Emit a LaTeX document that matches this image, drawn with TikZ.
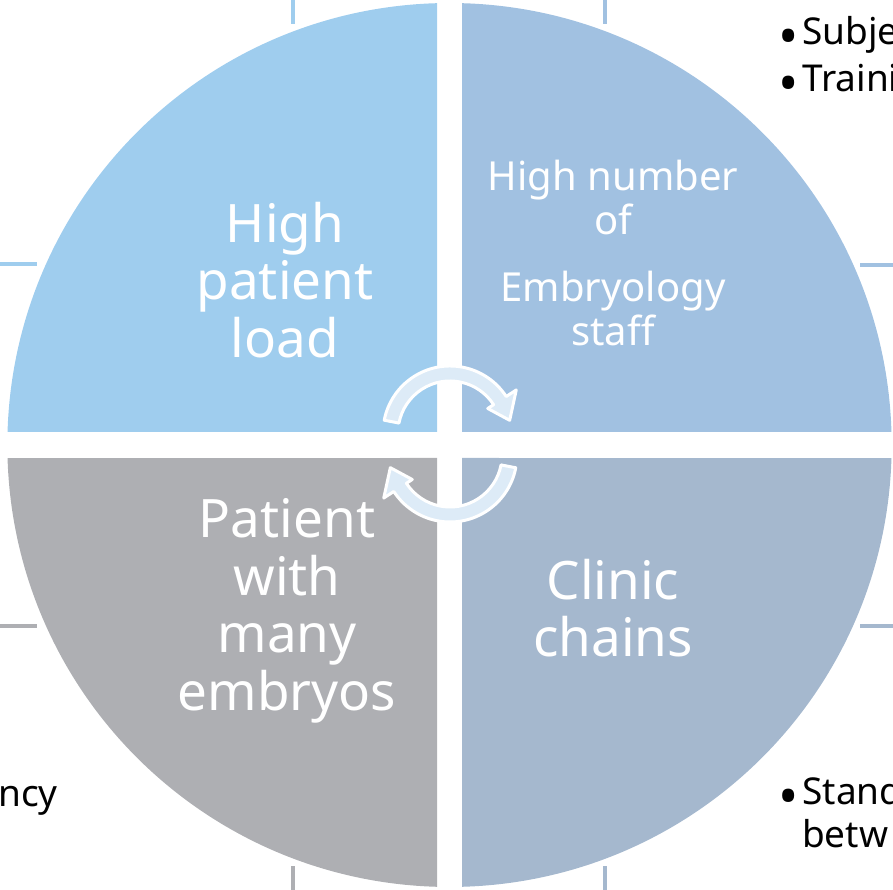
\documentclass[tikz,border=0pt]{standalone}
\usepackage{fontspec}
\setmainfont{Noto Sans}
\definecolor{qload}{HTML}{9FCDEE}
\definecolor{qstaff}{HTML}{A1C1E1}
\definecolor{qembryo}{HTML}{AEAFB3}
\definecolor{qchain}{HTML}{A5B8CE}
\definecolor{cyclefill}{HTML}{DDEBF7}
\newcommand{\bigdot}{\smash{\raisebox{-11pt}{\fontsize{54}{46}\selectfont•}}\hspace{4pt}}

\begin{document}
\begin{tikzpicture}[x=1pt, y=1pt,
  big/.style={text=white, align=center, font=\fontsize{53}{57.5}\selectfont, inner sep=0pt},
  small/.style={text=white, align=center, font=\fontsize{40}{44}\selectfont, inner sep=0pt},
  side/.style={text=black, font=\fontsize{37}{46}\selectfont, inner sep=0pt, text height=27pt, text depth=7pt},
  stub/.style={line width=4pt},
  cyc/.style={fill=cyclefill, draw=white, line width=3pt, line join=round}]

  \useasboundingbox (0,0) rectangle (893,890);
  \clip (0,0) rectangle (893,890);

  % --- centre of the disc ---
  \coordinate (c) at (449.5,445);

  % --- stubs of the outer connectors ---
  \draw[stub, qload]   (293,890) -- (293,866);
  \draw[stub, qstaff]  (605,890) -- (605,866);
  \draw[stub, qload]   (0,626)   -- (37,626);
  \draw[stub, qstaff]  (860,625) -- (893,625);
  \draw[stub, qembryo] (0,264)   -- (37,264);
  \draw[stub, qchain]  (860,264) -- (893,264);
  \draw[stub, qembryo] (293,0)   -- (293,24);
  \draw[stub, qchain]  (605,0)   -- (605,24);

  % --- the four quadrants ---
  \fill[qload]   ([shift={(-12.5,13)}]c) -- ++(0,428.8) arc[start angle=91.6, end angle=178.3, radius=442] -- cycle;
  \fill[qstaff]  ([shift={(12.5,13)}]c) -- ++(0,428.8) arc[start angle=88.4, end angle=1.7, radius=442] -- cycle;
  \fill[qembryo] ([shift={(-12.5,-13)}]c) -- ++(0,-428.8) arc[start angle=268.4, end angle=181.7, radius=442] -- cycle;
  \fill[qchain]  ([shift={(12.5,-13)}]c) -- ++(0,-428.8) arc[start angle=271.6, end angle=358.3, radius=442] -- cycle;

  % --- quadrant labels ---
  \node[big]   (load)   at (285,610) {High\\patient\\load};
  \node[small] (staff)  at (613,637) {High number\\of\\[23pt]Embryology\\staff};
  \node[big]   (embryo) at (287,279) {Patient\\with\\many\\embryos};
  \node[big]   (chain)  at (613,282) {Clinic\\chains};

  % --- cycle arrows ---
  \coordinate (cu) at (450,457);
  \coordinate (cd) at (450,435);
  \draw[cyc, shift={(cu)}] (169:67) arc[start angle=169, end angle=33, radius=67]
    -- (33:79) -- (12:61) -- (33:45) -- (33:52) arc[start angle=33, end angle=169, radius=52] -- cycle;
  \draw[cyc, shift={(cd)}] (-11:67) arc[start angle=-11, end angle=-147, radius=67]
    -- (-147:79) -- (-168:61) -- (-147:45) -- (-147:52) arc[start angle=-147, end angle=-11, radius=52] -- cycle;

  % --- cut-off texts of the neighbouring boxes ---
  \node[side, anchor=base west] (t1) at (778,845) {\bigdot Subje};
  \node[side, anchor=base west] (t2) at (778,798) {\bigdot Traini};
  \node[side, anchor=base west] (t3) at (778,85)  {\bigdot Stand};
  \node[side, anchor=base west] (t4) at (802,42)  {betw};
  \node[side, anchor=base east] (t5) at (58,83)   {ncy};
\end{tikzpicture}
\end{document}
